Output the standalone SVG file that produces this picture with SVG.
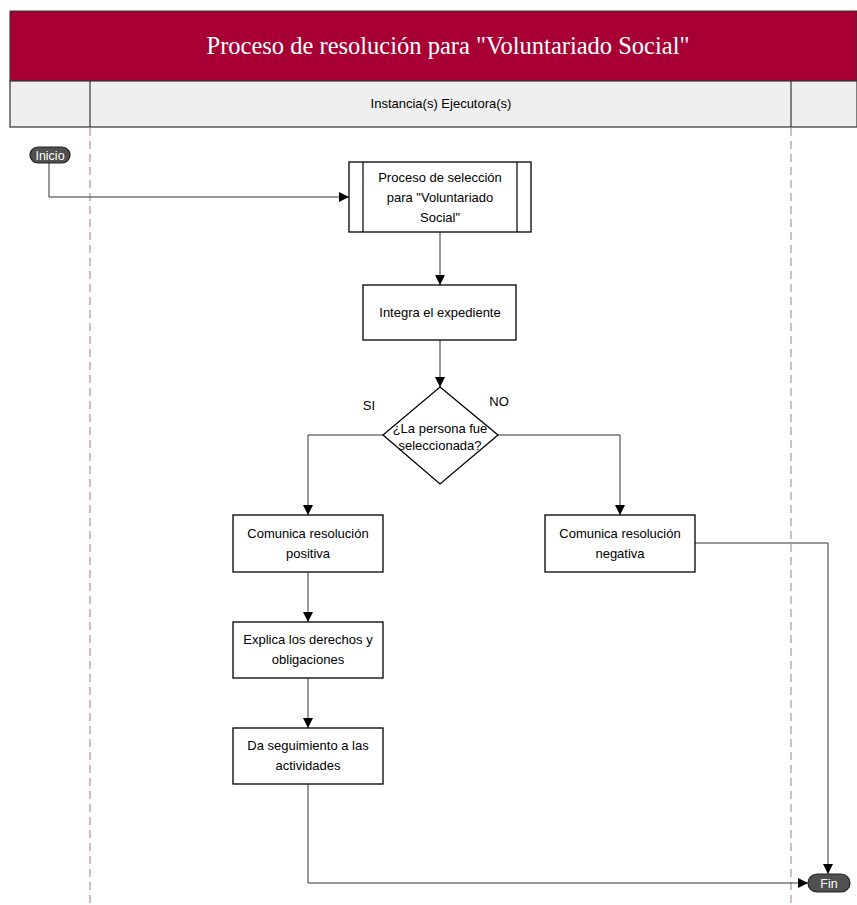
<svg xmlns="http://www.w3.org/2000/svg" width="857" height="905" viewBox="0 0 857 905">
<defs>
<marker id="ah" viewBox="0 0 10 10" refX="10" refY="5" markerWidth="10" markerHeight="10" markerUnits="userSpaceOnUse" orient="auto"><path d="M0,0 L10,5 L0,10 z" fill="#000"/></marker>
<style>
.box{fill:#fff;stroke:#000;stroke-width:1.3}
.t{font-family:"Liberation Sans",Arial,sans-serif;font-size:13px;fill:#000;text-anchor:middle}
.conn{fill:none;stroke:#333;stroke-width:1}
.lane{stroke:#b89090;stroke-width:1.2;stroke-dasharray:8,5}
.pill{fill:#505050;stroke:#222;stroke-width:1.2}
.pt{font-family:"Liberation Sans",Arial,sans-serif;font-size:12.5px;fill:#fff;text-anchor:middle}
</style>
</defs>
<rect width="857" height="905" fill="#fff"/>
<g id="header">
<rect x="10" y="11" width="847" height="70" fill="#a80034" stroke="#333" stroke-width="1"/>
<text x="448" y="54" font-family="Liberation Serif,serif" font-size="25" fill="#fff" text-anchor="middle" textLength="483" lengthAdjust="spacingAndGlyphs">Proceso de resolución para "Voluntariado Social"</text>
<rect x="10" y="81" width="847" height="46" fill="#efefef" stroke="#333" stroke-width="1.2"/>
<line x1="90" y1="81" x2="90" y2="127" stroke="#333" stroke-width="1.2"/>
<line x1="791" y1="81" x2="791" y2="127" stroke="#333" stroke-width="1.2"/>
<text x="441" y="108" class="t" font-size="12.5">Instancia(s) Ejecutora(s)</text>
</g>
<g id="lanes">
<line class="lane" x1="90" y1="128" x2="90" y2="905"/>
<line class="lane" x1="791" y1="128" x2="791" y2="905"/>
</g>
<g id="connectors">
<polyline class="conn" points="49,163 49,197 349,197" marker-end="url(#ah)"/>
<line class="conn" x1="440" y1="232" x2="440" y2="285" marker-end="url(#ah)"/>
<line class="conn" x1="440" y1="340" x2="440" y2="387" marker-end="url(#ah)"/>
<polyline class="conn" points="383,435 308,435 308,515" marker-end="url(#ah)"/>
<polyline class="conn" points="498,435 620,435 620,515" marker-end="url(#ah)"/>
<line class="conn" x1="308" y1="572" x2="308" y2="622" marker-end="url(#ah)"/>
<line class="conn" x1="308" y1="678" x2="308" y2="728" marker-end="url(#ah)"/>
<polyline class="conn" points="695,543 828,543 828,874" marker-end="url(#ah)"/>
<polyline class="conn" points="308,784 308,883 808,883" marker-end="url(#ah)"/>
<text x="369" y="410" class="t">SI</text>
<text x="499" y="406" class="t">NO</text>
</g>
<g id="inicio">
<rect class="pill" x="30" y="147" width="40" height="16" rx="8"/>
<text x="50" y="160" class="pt">Inicio</text>
</g>
<g id="seleccion">
<rect class="box" x="349" y="162" width="182" height="70"/>
<line x1="363" y1="162" x2="363" y2="232" stroke="#000" stroke-width="1.2"/>
<line x1="517" y1="162" x2="517" y2="232" stroke="#000" stroke-width="1.2"/>
<text class="t" x="440" y="182">Proceso de selección</text>
<text class="t" x="440" y="202">para "Voluntariado</text>
<text class="t" x="440" y="222">Social"</text>
</g>
<g id="integra">
<rect class="box" x="363" y="285" width="153" height="55"/>
<text class="t" x="440" y="317">Integra el expediente</text>
</g>
<g id="decision">
<polygon class="box" points="440,387 498,435 440,484 383,435"/>
<text class="t" x="440" y="433" font-size="12.5">¿La persona fue</text>
<text class="t" x="440" y="450" font-size="12.5">seleccionada?</text>
</g>
<g id="positiva">
<rect class="box" x="233" y="515" width="150" height="57"/>
<text class="t" x="308" y="538">Comunica resolución</text>
<text class="t" x="308" y="558">positiva</text>
</g>
<g id="negativa">
<rect class="box" x="545" y="515" width="150" height="57"/>
<text class="t" x="620" y="538">Comunica resolución</text>
<text class="t" x="620" y="558">negativa</text>
</g>
<g id="explica">
<rect class="box" x="233" y="622" width="150" height="56"/>
<text class="t" x="308" y="644">Explica los derechos y</text>
<text class="t" x="308" y="664">obligaciones</text>
</g>
<g id="seguimiento">
<rect class="box" x="233" y="728" width="150" height="56"/>
<text class="t" x="308" y="750">Da seguimiento a las</text>
<text class="t" x="308" y="770">actividades</text>
</g>
<g id="fin">
<rect class="pill" x="808" y="874" width="42" height="18" rx="9"/>
<text x="829" y="888" class="pt">Fin</text>
</g>
</svg>
